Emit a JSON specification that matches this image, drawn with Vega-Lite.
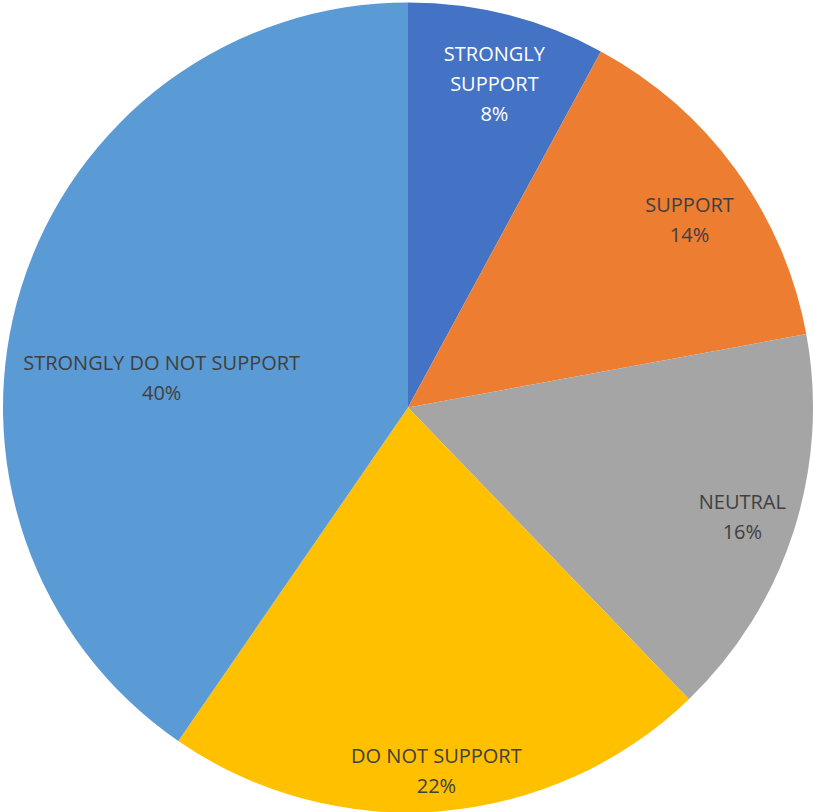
{
  "$schema": "https://vega.github.io/schema/vega-lite/v6.json",
  "autosize": {"type": "fit", "contains": "padding"},
  "width": 813,
  "height": 812,
  "padding": {"left": 3, "top": 3, "right": 0, "bottom": 0},
  "background": "white",
  "config": {"view": {"stroke": null}},
  "data": {
    "values": [
      {"order": 1, "category": "STRONGLY SUPPORT", "label": "STRONGLY\nSUPPORT", "value": 7.9},
      {"order": 2, "category": "SUPPORT", "label": "SUPPORT", "value": 14.2},
      {"order": 3, "category": "NEUTRAL", "label": "NEUTRAL", "value": 15.7},
      {"order": 4, "category": "DO NOT SUPPORT", "label": "DO NOT SUPPORT", "value": 21.8},
      {"order": 5, "category": "STRONGLY DO NOT SUPPORT", "label": "STRONGLY DO NOT SUPPORT", "value": 40.4}
    ]
  },
  "transform": [
    {"stack": "value", "sort": [{"field": "order"}], "groupby": [], "as": ["v0", "v1"]},
    {"calculate": "(datum.v0 + datum.v1) / 2", "as": "mid"},
    {"calculate": "datum.label + '\\n' + round(datum.value) + '%'", "as": "text"}
  ],
  "layer": [
    {
      "mark": {"type": "arc", "outerRadius": 405, "stroke": null},
      "encoding": {
        "theta": {"field": "v0", "type": "quantitative", "scale": {"domain": [0, 100]}},
        "theta2": {"field": "v1"},
        "color": {
          "field": "category",
          "type": "nominal",
          "scale": {
            "domain": ["STRONGLY SUPPORT", "SUPPORT", "NEUTRAL", "DO NOT SUPPORT", "STRONGLY DO NOT SUPPORT"],
            "range": ["#4472C4", "#ED7D31", "#A5A5A5", "#FFC000", "#5B9BD5"]
          },
          "legend": null
        }
      }
    },
    {
      "transform": [{"filter": "datum.order == 1"}],
      "mark": {"type": "text", "radius": 364, "dx": -3, "font": "Open Sans", "fontSize": 20, "lineBreak": "\n", "lineHeight": 30, "color": "white", "align": "center", "baseline": "middle"},
      "encoding": {
        "theta": {"field": "mid", "type": "quantitative"},
        "text": {"field": "text"}
      }
    },
    {
      "transform": [{"filter": "datum.order == 2 || datum.order == 4"}],
      "mark": {"type": "text", "radius": 348, "dy": 3, "font": "Open Sans", "fontSize": 20, "lineBreak": "\n", "lineHeight": 30, "color": "#404040", "align": "center", "baseline": "middle"},
      "encoding": {
        "theta": {"field": "mid", "type": "quantitative"},
        "text": {"field": "text"}
      }
    },
    {
      "transform": [{"filter": "datum.order == 3"}],
      "mark": {"type": "text", "radius": 347, "dx": 4, "dy": -11, "font": "Open Sans", "fontSize": 20, "lineBreak": "\n", "lineHeight": 30, "color": "#404040", "align": "center", "baseline": "middle"},
      "encoding": {
        "theta": {"field": "mid", "type": "quantitative"},
        "text": {"field": "text"}
      }
    },
    {
      "transform": [{"filter": "datum.order == 5"}],
      "mark": {"type": "text", "radius": 258, "dy": 33, "font": "Open Sans", "fontSize": 20, "lineBreak": "\n", "lineHeight": 30, "color": "#404040", "align": "center", "baseline": "middle"},
      "encoding": {
        "theta": {"field": "mid", "type": "quantitative"},
        "text": {"field": "text"}
      }
    }
  ]
}
